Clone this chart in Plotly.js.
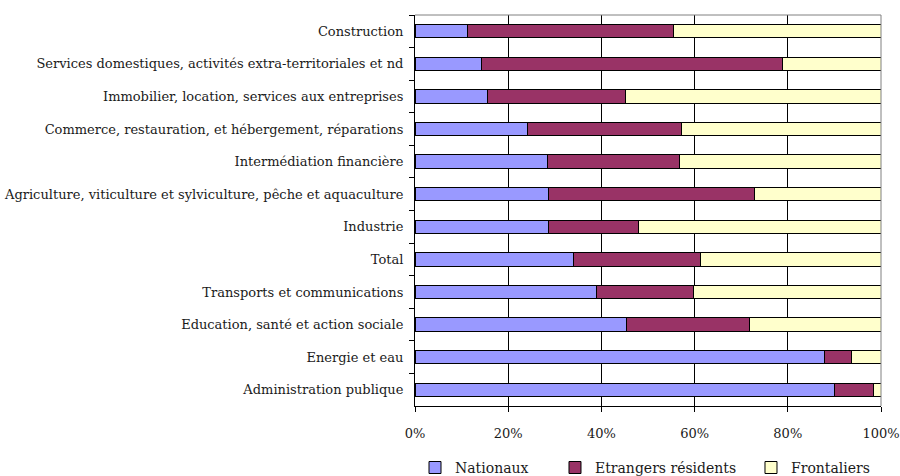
<!DOCTYPE html>
<html>
<head>
<meta charset="utf-8">
<script src="https://cdn.plot.ly/plotly-3.0.1.min.js"></script>
<style>html,body{margin:0;padding:0;background:#fff;}#chart{width:900px;height:476px;}</style>
</head>
<body>
<div id="chart"></div>
<script>
const categories = [
  "Construction",
  "Services domestiques, activités extra-territoriales et nd",
  "Immobilier, location, services aux entreprises",
  "Commerce, restauration, et hébergement, réparations",
  "Intermédiation financière",
  "Agriculture, viticulture et sylviculture, pêche et aquaculture",
  "Industrie",
  "Total",
  "Transports et communications",
  "Education, santé et action sociale",
  "Energie et eau",
  "Administration publique"
];
const nationaux   = [11.2, 14.3, 15.5, 24.1, 28.4, 28.7, 28.7, 34.1, 39.0, 45.4, 87.8, 90.0];
const etrangers   = [44.2, 64.5, 29.7, 33.1, 28.3, 44.2, 19.3, 27.2, 20.7, 26.4, 5.8, 8.3];
const frontaliers = [44.6, 21.2, 54.8, 42.8, 43.3, 27.1, 52.0, 38.7, 40.3, 28.2, 6.4, 1.7];
const seriesNames = ["Nationaux", "Etrangers résidents", "Frontaliers"];
const xTicks = [0, 20, 40, 60, 80, 100];
const xTickLabels = ["0%", "20%", "40%", "60%", "80%", "100%"];

const colors = ["#9999FF", "#993366", "#FFFFCC"];
const legendIds = ["legend", "legend2", "legend3"];
const values = [nationaux, etrangers, frontaliers];
const traces = values.map((v, i) => ({
  type: "bar",
  orientation: "h",
  name: seriesNames[i],
  legend: legendIds[i],
  y: categories,
  x: v,
  marker: {color: colors[i], line: {color: "#000000", width: 1}},
  hoverinfo: "none"
}));

const font = {family: "DejaVu Serif", size: 13, color: "#1a1a1a"};
const legendBase = {orientation: "h", yref: "container", y: 0.017, yanchor: "middle", xanchor: "left",
                    font: {family: "DejaVu Serif", size: 14, color: "#1a1a1a"}, bgcolor: "rgba(0,0,0,0)"};
const layout = {
  width: 900, height: 476,
  margin: {l: 415, r: 19, t: 15, b: 70},
  barmode: "stack",
  bargap: 0.59,
  paper_bgcolor: "#ffffff",
  plot_bgcolor: "#ffffff",
  font: font,
  showlegend: true,
  legend: Object.assign({}, legendBase, {x: 0.0}),
  legend2: Object.assign({}, legendBase, {x: 0.3004}),
  legend3: Object.assign({}, legendBase, {x: 0.721}),
  xaxis: {
    range: [0, 100], tickvals: xTicks, ticktext: xTickLabels,
    showgrid: true, gridcolor: "#000000", gridwidth: 1,
    showline: true, linecolor: "#000000", linewidth: 1,
    ticks: "outside", ticklen: 5, tickcolor: "#000000",
    zeroline: false, fixedrange: true, ticklabelstandoff: 10,
    ticklabeloverflow: "allow"
  },
  yaxis: {
    type: "category", autorange: "reversed",
    tickson: "boundaries", ticks: "outside", ticklen: 5, tickcolor: "#000000",
    showline: true, linecolor: "#000000", linewidth: 1,
    showgrid: false, zeroline: false, ticklabelstandoff: 8, fixedrange: true,
    ticklabeloverflow: "allow"
  },
  shapes: [
    {type: "line", xref: "paper", yref: "paper", x0: 0, x1: 1, y0: 1, y1: 1, line: {color: "#808080", width: 1}},
    {type: "line", xref: "paper", yref: "paper", x0: 1, x1: 1, y0: 0, y1: 1, line: {color: "#808080", width: 1}}
  ]
};

Plotly.newPlot("chart", traces, layout, {displayModeBar: false, staticPlot: true});
</script>
</body>
</html>
